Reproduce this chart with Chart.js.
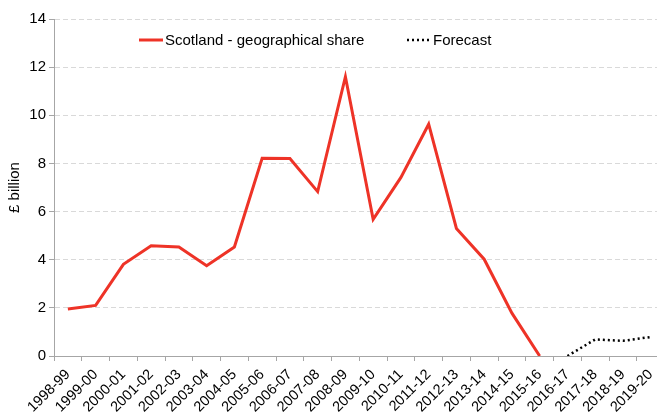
<!DOCTYPE html>
<html>
<head>
<meta charset="utf-8">
<script src="https://cdn.jsdelivr.net/npm/chart.js@4"></script>
<style>
  html, body { margin: 0; padding: 0; background: #fff; overflow: hidden; }
  #wrap { width: 668px; height: 415px; }
</style>
</head>
<body>
<div id="wrap"><canvas id="chart" width="668" height="415"></canvas></div>
<script>
const years = ['1998-99','1999-00','2000-01','2001-02','2002-03','2003-04','2004-05','2005-06',
  '2006-07','2007-08','2008-09','2009-10','2010-11','2011-12','2012-13','2013-14','2014-15',
  '2015-16','2016-17','2017-18','2018-19','2019-20'];
const scotland = [1.95, 2.1, 3.81, 4.58, 4.53, 3.75, 4.53, 8.21, 8.2, 6.83, 11.6, 5.68, 7.42,
  9.63, 5.3, 4.02, 1.78, 0, null, null, null, null];
const forecast = [null, null, null, null, null, null, null, null, null, null, null, null, null,
  null, null, null, null, null, 0, 0.69, 0.63, 0.79];
const yTicks = [0, 2, 4, 6, 8, 10, 12, 14];

const FONT = 'Liberation Sans, Arial, sans-serif';

// legend drawn inside the plot, like the original
const insideLegend = {
  id: 'insideLegend',
  afterDraw(chart) {
    const ctx = chart.ctx;
    const items = [
      { ds: chart.data.datasets[0], x: 139 },
      { ds: chart.data.datasets[1], x: 407 }
    ];
    const y = 40;
    ctx.save();
    ctx.font = '15px ' + FONT;
    ctx.textBaseline = 'middle';
    items.forEach(it => {
      ctx.beginPath();
      ctx.strokeStyle = it.ds.borderColor;
      ctx.lineWidth = it.ds.borderWidth;
      ctx.setLineDash(it.ds.borderDash || []);
      ctx.moveTo(it.x, y);
      ctx.lineTo(it.x + 24, y);
      ctx.stroke();
      ctx.setLineDash([]);
      ctx.fillStyle = '#000';
      ctx.fillText(it.ds.label, it.x + 26, y + 1);
    });
    ctx.restore();
  }
};

new Chart(document.getElementById('chart'), {
  type: 'line',
  data: {
    labels: years,
    datasets: [
      {
        label: 'Scotland - geographical share',
        data: scotland,
        borderColor: '#ee3327',
        borderWidth: 3,
        pointRadius: 0,
        tension: 0,
        spanGaps: false
      },
      {
        label: 'Forecast',
        data: forecast,
        borderColor: '#000',
        borderWidth: 2.5,
        borderDash: [2, 3],
        pointRadius: 0,
        tension: 0,
        spanGaps: false
      }
    ]
  },
  options: {
    responsive: false,
    animation: false,
    layout: { padding: { top: 19, left: 0, right: 0, bottom: 0 } },
    plugins: {
      legend: { display: false },
      tooltip: { enabled: false }
    },
    scales: {
      x: {
        offset: true,
        grid: { display: true, drawOnChartArea: false, drawTicks: true, tickLength: 5, color: '#a6a6a6', offset: true },
        border: { color: '#a6a6a6', width: 1 },
        ticks: {
          color: '#000',
          font: { family: FONT, size: 14.5 },
          minRotation: 45,
          maxRotation: 45,
          autoSkip: false,
          padding: 5
        },
        afterFit(scale) { scale.height = 59; }
      },
      y: {
        min: 0,
        max: 14,
        afterBuildTicks(scale) { scale.ticks = yTicks.map(v => ({ value: v })); },
        grid: { color: '#d9d9d9', lineWidth: 1, tickLength: 5, tickColor: '#a6a6a6', tickBorderDash: [] },
        border: { color: '#a6a6a6', width: 1, dash: [5, 3] },
        ticks: {
          color: '#000',
          font: { family: FONT, size: 15 },
          padding: 3
        },
        title: {
          display: true,
          text: '£ billion',
          color: '#000',
          font: { family: FONT, size: 15 },
          padding: { top: 6, bottom: 0 }
        },
        afterFit(scale) { scale.width = 54; }
      }
    }
  },
  plugins: [insideLegend]
});
</script>
</body>
</html>
